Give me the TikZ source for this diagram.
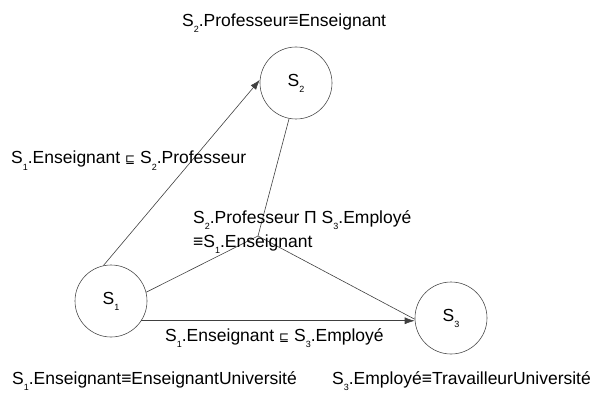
\documentclass[tikz,border=0pt]{standalone}
\usepackage{fontspec}
\setmainfont{Liberation Sans}
\newfontfamily\dvfont{DejaVu Sans}
\usetikzlibrary{arrows.meta}
\tikzset{>=latex}
\tikzset{
  onto/.style = {circle, draw=black!70, line width=0.6pt, minimum size=72pt, inner sep=0pt, font=\fontsize{17.5}{20}\selectfont},
  lbl/.style = {anchor=base west, inner sep=0pt, font=\fontsize{17.5}{20}\selectfont},
  link/.style = {draw=black!75, line width=0.6pt},
  tip/.style = {-{Latex[length=10pt, width=7pt]}}
}
\newcommand{\sdx}[1]{\raisebox{-6pt}{\fontsize{9}{9}\selectfont #1}}
\newcommand{\incl}{{\dvfont\fontsize{12}{12}\selectfont ⊑}}

\begin{document}
\begin{tikzpicture}[x=1pt, y=-1pt]
\useasboundingbox (0,0) rectangle (597,393);
\node [onto] (S1) at (111,301) {S\sdx{1}};
\node [onto] (S2) at (296,83) {S\sdx{2}};
\node [onto] (S3) at (451,318) {S\sdx{3}};
\coordinate (J) at (258,236);

\draw [link, tip] (S1.102) to (S2.175);
\draw [link, tip] (S1.-33) to (S1.-33 -| S3.west);
\draw [link] (S2.-101) to (J);
\draw [link] (S1.14) to (J);
\draw [link] (J) to (S3.182);

\node [lbl] (t2) at (182,27) {S\sdx{2}.Professeur≡Enseignant};
\node [lbl] (t12) at (11,164) {S\sdx{1}.Enseignant \incl{} S\sdx{2}.Professeur};
\node [lbl] (tj1) at (193,223) {S\sdx{2}.Professeur Π S\sdx{3}.Employé};
\node [lbl] (tj2) at (193,247) {≡S\sdx{1}.Enseignant};
\node [lbl] (t13) at (165,341) {S\sdx{1}.Enseignant \incl{} S\sdx{3}.Employé};
\node [lbl] (t1) at (12,384) {S\sdx{1}.Enseignant≡EnseignantUniversité};
\node [lbl] (t3) at (332,384) {S\sdx{3}.Employé≡TravailleurUniversité};
\end{tikzpicture}
\end{document}
